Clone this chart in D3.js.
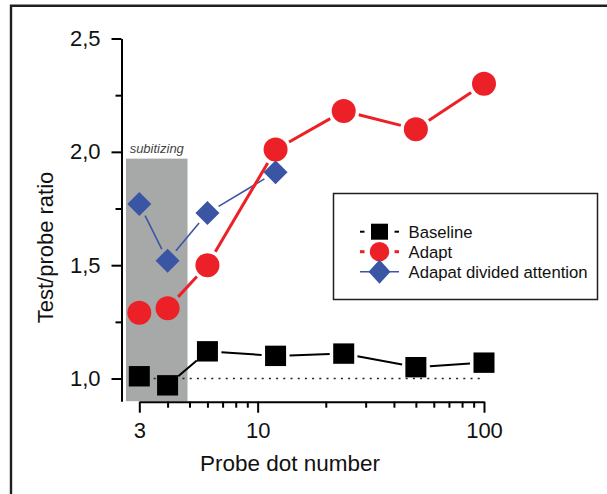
<!DOCTYPE html>
<html lang="en">
<head>
    <meta charset="UTF-8">
    <title>Test/probe ratio</title>
    <script src="https://d3js.org/d3.v7.min.js"></script>
    <style>
        body {
            margin: 0;
            font-family: "Liberation Sans", Arial, Helvetica, sans-serif;
            background: #fff;
        }
    </style>
</head>
<body>
    <div class="chart"></div>

    <script>
        const dotNumbers = [3, 4, 6, 12, 24, 50, 100];
        const baseline = [1.01, 0.97, 1.12, 1.10, 1.11, 1.05, 1.07];
        const adapt = [1.29, 1.31, 1.50, 2.01, 2.18, 2.10, 2.30];
        const dividedNumbers = [3, 4, 6, 12];
        const divided = [1.77, 1.52, 1.73, 1.91];

        const yTicks = [1.0, 1.25, 1.5, 1.75, 2.0, 2.25, 2.5];
        const xTicks = [3, 4, 5, 6, 7, 8, 9, 10, 20, 30, 40, 50, 60, 70, 80, 90, 100];
        const xLabelled = [3, 10, 100];
        const subitizing = [2.62, 4.9];   // x range of the shaded band
        const subitizingTop = 1.97;
        const reference = 1.0;

        const red = '#ec2128';
        const blue = '#3b55a5';

        const svg = d3.select('.chart')
            .append('svg')
            .attr('width', 607)
            .attr('height', 494);

        // outer frame (only left and top visible)
        svg.append('path')
            .attr('d', 'M11,494V5.8H607')
            .attr('fill', 'none')
            .attr('stroke', '#231f20')
            .attr('stroke-width', 2.4);

        const x = d3.scaleLog().domain([3, 100]).range([139.3, 484]);
        const y = d3.scaleLinear().domain([0.9, 2.5]).range([401.2, 38.5]);

        // subitizing band
        svg.append('rect')
            .attr('x', x(subitizing[0]))
            .attr('y', y(subitizingTop))
            .attr('width', x(subitizing[1]) - x(subitizing[0]))
            .attr('height', y(0.9) - y(subitizingTop))
            .attr('fill', '#a7a9a8');

        svg.append('text')
            .attr('x', (x(subitizing[0]) + x(subitizing[1])) / 2)
            .attr('y', y(subitizingTop) - 6)
            .attr('text-anchor', 'middle')
            .attr('font-size', 13)
            .attr('font-style', 'italic')
            .attr('fill', '#444')
            .text('subitizing');

        // axes
        const fmt = d => d3.format('.1f')(d).replace('.', ',');

        const yAxis = svg.append('g')
            .attr('transform', 'translate(121.5,0)')
            .call(d3.axisLeft(y)
                .tickValues(yTicks)
                .tickSizeInner(10)
                .tickSizeOuter(0)
                .tickPadding(11)
                .tickFormat(d => (Math.round(d * 100) % 50 === 0 ? fmt(d) : '')));

        yAxis.selectAll('.tick line')
            .attr('x2', d => (Math.round(d * 100) % 50 === 0 ? -10 : -6));

        const xAxis = svg.append('g')
            .attr('transform', 'translate(0,401.7)')
            .call(d3.axisBottom(x)
                .tickValues(xTicks)
                .tickSizeInner(11)
                .tickSizeOuter(0)
                .tickPadding(10)
                .tickFormat(d => (xLabelled.includes(d) ? d : '')));

        xAxis.selectAll('.tick line')
            .attr('y2', d => (xLabelled.includes(d) ? 11 : 6));

        svg.selectAll('.domain, .tick line')
            .attr('stroke', '#000')
            .attr('stroke-width', 2);

        svg.selectAll('.tick text')
            .attr('font-size', 22)
            .attr('font-family', '"Liberation Sans", Arial, Helvetica, sans-serif')
            .attr('fill', '#111');

        // axis titles
        svg.append('text')
            .attr('x', 290)
            .attr('y', 471)
            .attr('text-anchor', 'middle')
            .attr('font-size', 22.5)
            .attr('fill', '#111')
            .text('Probe dot number');

        svg.append('text')
            .attr('transform', 'translate(53,247.5) rotate(-90)')
            .attr('text-anchor', 'middle')
            .attr('font-size', 22)
            .attr('fill', '#111')
            .text('Test/probe ratio');

        // reference line at 1.0
        svg.append('line')
            .attr('x1', x(3))
            .attr('x2', x(100))
            .attr('y1', y(reference))
            .attr('y2', y(reference))
            .attr('stroke', '#222')
            .attr('stroke-width', 1.6)
            .attr('stroke-dasharray', '2,5.2');

        // connecting segments that stop short of the markers
        function segments(xs, ys, gap, color, width) {
            const pts = xs.map((d, i) => [x(d), y(ys[i])]);
            for (let i = 0; i < pts.length - 1; i++) {
                const [x1, y1] = pts[i];
                const [x2, y2] = pts[i + 1];
                const len = Math.hypot(x2 - x1, y2 - y1);
                if (len - 2 * gap < 4) continue;
                const ux = (x2 - x1) / len, uy = (y2 - y1) / len;
                svg.append('line')
                    .attr('x1', x1 + ux * gap)
                    .attr('y1', y1 + uy * gap)
                    .attr('x2', x2 - ux * gap)
                    .attr('y2', y2 - uy * gap)
                    .attr('stroke', color)
                    .attr('stroke-width', width);
            }
        }

        segments(dividedNumbers, divided, 13, blue, 1.6);
        segments(dotNumbers, adapt, 15.5, red, 3);
        segments(dotNumbers, baseline, 14, '#000', 2);

        // markers
        svg.selectAll('.diamond')
            .data(dividedNumbers)
            .enter()
            .append('path')
            .attr('class', 'diamond')
            .attr('transform', (d, i) => `translate(${x(d)},${y(divided[i])})`)
            .attr('d', 'M0,-12L12,0L0,12L-12,0Z')
            .attr('fill', blue);

        svg.selectAll('.circle')
            .data(dotNumbers)
            .enter()
            .append('circle')
            .attr('class', 'circle')
            .attr('cx', d => x(d))
            .attr('cy', (d, i) => y(adapt[i]))
            .attr('r', 12)
            .attr('fill', red);

        svg.selectAll('.square')
            .data(dotNumbers)
            .enter()
            .append('rect')
            .attr('class', 'square')
            .attr('x', d => x(d) - 10.5)
            .attr('y', (d, i) => y(baseline[i]) - 10.2)
            .attr('width', 21)
            .attr('height', 20.4)
            .attr('fill', '#000');

        // legend
        const legend = svg.append('g');
        legend.append('rect')
            .attr('x', 333.5)
            .attr('y', 193.5)
            .attr('width', 264)
            .attr('height', 106)
            .attr('fill', '#fff')
            .attr('stroke', '#231f20')
            .attr('stroke-width', 1.5);

        const items = [
            { label: 'Baseline', color: '#000', shape: 'square', dashed: true, w: 2 },
            { label: 'Adapt', color: red, shape: 'circle', dashed: true, w: 3 },
            { label: 'Adapat divided attention', color: blue, shape: 'diamond', dashed: false, w: 1.6 }
        ];

        items.forEach((it, i) => {
            const g = legend.append('g').attr('transform', `translate(379.5,${231.7 + i * 20})`);
            if (it.dashed) {
                g.append('line').attr('x1', -19.5).attr('x2', -15).attr('stroke', it.color).attr('stroke-width', it.w);
                g.append('line').attr('x1', 15).attr('x2', 19.5).attr('stroke', it.color).attr('stroke-width', it.w);
            } else {
                g.append('line').attr('x1', -19.5).attr('x2', 19.5).attr('stroke', it.color).attr('stroke-width', it.w);
            }
            if (it.shape === 'square') {
                g.append('rect').attr('x', -8.5).attr('y', -8).attr('width', 17).attr('height', 16).attr('fill', it.color);
            } else if (it.shape === 'circle') {
                g.append('circle').attr('r', 9.7).attr('fill', it.color);
            } else {
                g.append('path').attr('d', 'M0,-12L11,0L0,12L-11,0Z').attr('fill', it.color);
            }
            g.append('text')
                .attr('x', 29)
                .attr('dy', '0.36em')
                .attr('font-size', 16.7)
                .attr('fill', '#111')
                .text(it.label);
        });
    </script>
</body>
</html>
